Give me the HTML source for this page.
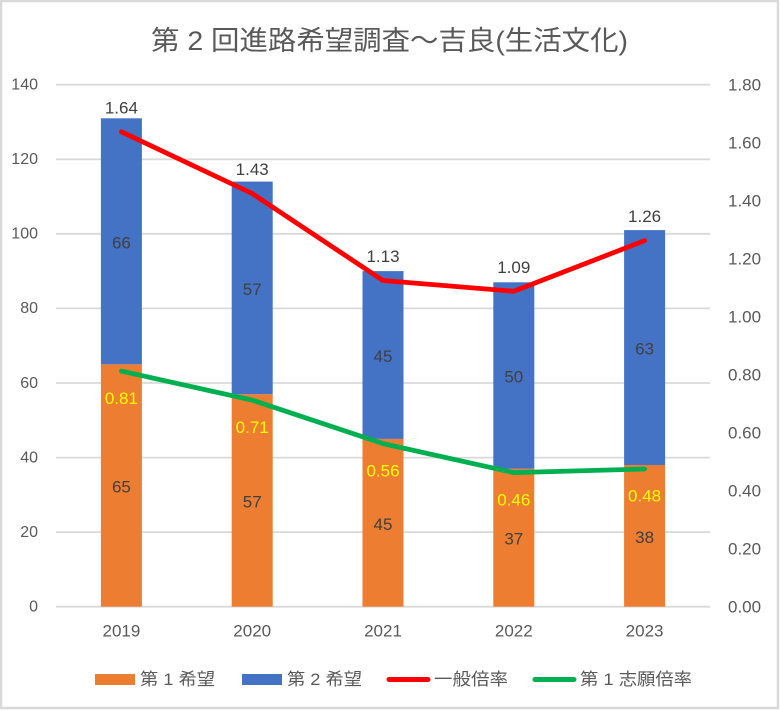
<!DOCTYPE html>
<html><head><meta charset="utf-8"><style>
html,body{margin:0;padding:0;background:#fff;}
svg{display:block;}
text{font-family:"Liberation Sans","Noto Sans CJK JP",sans-serif;}
</style></head><body>
<svg width="780" height="711" viewBox="0 0 780 711" xmlns="http://www.w3.org/2000/svg">
<rect x="0" y="0" width="780" height="711" fill="#fff"/>
<rect x="1" y="1" width="777" height="707" fill="none" stroke="#d9d9d9" stroke-width="2.5"/>
<text x="389.5" y="41" font-size="27" fill="#595959" text-anchor="middle" dominant-baseline="central" textLength="477" lengthAdjust="spacingAndGlyphs">第 2 回進路希望調査～吉良(生活文化)</text>
<g stroke="#d9d9d9" stroke-width="1.8">
<line x1="56" y1="84.7" x2="710" y2="84.7"/>
<line x1="56" y1="159.3" x2="710" y2="159.3"/>
<line x1="56" y1="233.8" x2="710" y2="233.8"/>
<line x1="56" y1="308.4" x2="710" y2="308.4"/>
<line x1="56" y1="383.0" x2="710" y2="383.0"/>
<line x1="56" y1="457.6" x2="710" y2="457.6"/>
<line x1="56" y1="532.1" x2="710" y2="532.1"/>
<line x1="56" y1="606.7" x2="710" y2="606.7"/>
</g>
<g font-size="16" fill="#595959" text-anchor="end" dominant-baseline="central">
<text x="38" y="85">140</text>
<text x="38" y="159.6">120</text>
<text x="38" y="234.1">100</text>
<text x="38" y="308.7">80</text>
<text x="38" y="383.3">60</text>
<text x="38" y="457.9">40</text>
<text x="38" y="532.4">20</text>
<text x="38" y="607">0</text>
</g>
<g font-size="17" fill="#595959" text-anchor="start" dominant-baseline="central">
<text x="728" y="85">1.80</text>
<text x="728" y="143">1.60</text>
<text x="728" y="201">1.40</text>
<text x="728" y="259">1.20</text>
<text x="728" y="317">1.00</text>
<text x="728" y="375">0.80</text>
<text x="728" y="433">0.60</text>
<text x="728" y="491">0.40</text>
<text x="728" y="549">0.20</text>
<text x="728" y="607">0.00</text>
</g>
<g fill="#ed7d31">
<rect x="100.9" y="364.3" width="41" height="242.4"/>
<rect x="231.7" y="394.2" width="41" height="212.5"/>
<rect x="362.5" y="438.9" width="41" height="167.8"/>
<rect x="493.3" y="468.7" width="41" height="138.0"/>
<rect x="624.1" y="465.0" width="41" height="141.7"/>
</g>
<g fill="#4472c4">
<rect x="100.9" y="118.3" width="41" height="246.0"/>
<rect x="231.7" y="181.6" width="41" height="212.6"/>
<rect x="362.5" y="271.1" width="41" height="167.8"/>
<rect x="493.3" y="282.3" width="41" height="186.4"/>
<rect x="624.1" y="230.1" width="41" height="234.9"/>
</g>
<g font-size="17" fill="#404040" text-anchor="middle" dominant-baseline="central">
<text x="121.4" y="487">65</text>
<text x="252.2" y="502">57</text>
<text x="383" y="524.3">45</text>
<text x="513.8" y="539.2">37</text>
<text x="644.6" y="537.4">38</text>
<text x="121.4" y="242.8">66</text>
<text x="252.2" y="289.4">57</text>
<text x="383" y="356.5">45</text>
<text x="513.8" y="377">50</text>
<text x="644.6" y="349.1">63</text>
</g>
<polyline points="121.4,131.8 252.2,193.5 383,280.5 513.8,291.3 644.6,240.6" fill="none" stroke="#ff0000" stroke-width="4.8" stroke-linejoin="round" stroke-linecap="round"/>
<polyline points="121.4,371.1 252.2,400.1 383,443.6 513.8,472.6 644.6,469.0" fill="none" stroke="#00b050" stroke-width="4.8" stroke-linejoin="round" stroke-linecap="round"/>
<g font-size="17" fill="#404040" text-anchor="middle" dominant-baseline="central">
<text x="121.4" y="108">1.64</text>
<text x="252.2" y="169.5">1.43</text>
<text x="383" y="256.5">1.13</text>
<text x="513.8" y="267.3">1.09</text>
<text x="644.6" y="216.6">1.26</text>
</g>
<g font-size="17" fill="#ffff00" text-anchor="middle" dominant-baseline="central">
<text x="121.4" y="398.3">0.81</text>
<text x="252.2" y="427.5">0.71</text>
<text x="383" y="471">0.56</text>
<text x="513.8" y="500">0.46</text>
<text x="644.6" y="496.2">0.48</text>
</g>
<g font-size="17" fill="#595959" text-anchor="middle" dominant-baseline="central">
<text x="121.4" y="631">2019</text>
<text x="252.2" y="631">2020</text>
<text x="383" y="631">2021</text>
<text x="513.8" y="631">2022</text>
<text x="644.6" y="631">2023</text>
</g>
<rect x="95" y="674" width="40" height="11" fill="#ed7d31"/>
<rect x="242" y="674" width="40" height="11" fill="#4472c4"/>
<line x1="389" y1="679.5" x2="428" y2="679.5" stroke="#ff0000" stroke-width="5" stroke-linecap="round"/>
<line x1="535" y1="679.5" x2="574" y2="679.5" stroke="#00b050" stroke-width="5" stroke-linecap="round"/>
<g font-size="17" fill="#595959" dominant-baseline="central">
<text x="140" y="679.5" textLength="75" lengthAdjust="spacingAndGlyphs">第 1 希望</text>
<text x="287" y="679.5" textLength="75" lengthAdjust="spacingAndGlyphs">第 2 希望</text>
<text x="434" y="679.5" textLength="74" lengthAdjust="spacingAndGlyphs">一般倍率</text>
<text x="580" y="679.5" textLength="112" lengthAdjust="spacingAndGlyphs">第 1 志願倍率</text>
</g>
</svg>
</body></html>
